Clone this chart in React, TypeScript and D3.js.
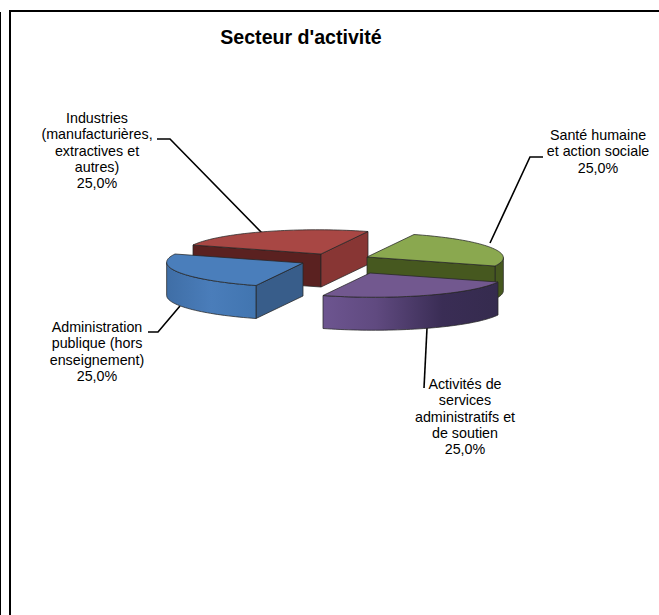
import React from 'react';
import * as d3 from 'd3';

const categories = [
  'Santé humaine et action sociale',
  'Activités de services administratifs et de soutien',
  'Administration publique (hors enseignement)',
  'Industries (manufacturières, extractives et autres)',
];
const shares = [25, 25, 25, 25];
const title = "Secteur d'activité";

const topColors = ['#8aa84f', '#72588f', '#4a7ebb', '#a84744'];
const startFaceColors = ['#46581f', '#2f2545', '#385d8a', '#5a2120'];
const endFaceColors = ['#46581f', '#2f2545', '#385d8a', '#883634'];
const rimColors = ['#46581f', 'url(#rim-purple)', 'url(#rim-blue)', '#883634'];

// how far each slice is pulled from the pie centre, in px
const explode: [number, number][] = [
  [27, -5],
  [30, 11],
  [-37, 1],
  [-19, -8],
];

const labelLines = [
  ['Santé humaine', 'et action sociale', '25,0%'],
  ['Activités de', 'services', 'administratifs et', 'de soutien', '25,0%'],
  ['Administration', 'publique (hors', 'enseignement)', '25,0%'],
  ['Industries', '(manufacturières,', 'extractives et', 'autres)', '25,0%'],
];
const labelAt: [number, number][] = [
  [598, 140],
  [465, 389],
  [97, 332],
  [97, 123],
];
const leaders: [number, number][][] = [
  [[543, 157], [530, 157], [490, 243]],
  [[424, 388], [427, 328]],
  [[148, 332], [158, 332], [180, 306]],
  [[157, 139], [170, 139], [263, 234]],
];

const center: [number, number] = [340, 262];
const axisU: [number, number] = [128, 9]; // radius towards 3 o'clock on screen
const axisV: [number, number] = [-47, 22.5]; // radius towards 6 o'clock on screen
const depth = 33;
const edge = '#262626';

const project = (a: number): [number, number] => [
  Math.sin(a) * axisU[0] - Math.cos(a) * axisV[0],
  Math.sin(a) * axisU[1] - Math.cos(a) * axisV[1],
];

const line = d3.line<[number, number]>();
const down = (p: [number, number]): [number, number] => [p[0], p[1] + depth];
const wall = (pts: [number, number][]): string =>
  (line([...pts, ...pts.map(down).reverse()]) as string) + 'Z';

const slices = d3.pie<number>().sort(null).startAngle(0).endAngle(2 * Math.PI)(shares);

const Slice: React.FC<{ index: number }> = ({ index }) => {
  const s = slices[index];
  const apex: [number, number] = [center[0] + explode[index][0], center[1] + explode[index][1]];
  const rimAt = (a: number): [number, number] => {
    const p = project(a);
    return [apex[0] + p[0], apex[1] + p[1]];
  };
  const sweep = d3.scaleLinear().domain([0, 48]).range([s.startAngle, s.endAngle]);
  const rim = d3.range(49).map((i) => rimAt(sweep(i)));
  // keep the part of the rim that faces the viewer
  const frontRim = rim.filter((p, i) => {
    const prev = rim[i - 1];
    const next = rim[i + 1];
    return (prev && prev[0] > p[0]) || (next && p[0] > next[0]);
  });
  const first = rim[0];
  const last = rim[rim.length - 1];
  const faces: { d: string; fill: string }[] = [];
  if (first[0] < apex[0]) faces.push({ d: wall([apex, first]), fill: startFaceColors[index] });
  if (frontRim.length > 1) faces.push({ d: wall(frontRim), fill: rimColors[index] });
  if (last[0] > apex[0]) faces.push({ d: wall([last, apex]), fill: endFaceColors[index] });

  return (
    <g stroke={edge} strokeWidth={0.75} strokeLinejoin="round">
      {faces.map((f, i) => (
        <path key={i} d={f.d} fill={f.fill} />
      ))}
      <path d={(line([apex, ...rim]) as string) + 'Z'} fill={topColors[index]} />
    </g>
  );
};

const App: React.FC = () => (
  <svg
    width={659}
    height={615}
    style={{ position: 'absolute', left: 0, top: 0, display: 'block', background: '#fff' }}
    fontFamily="'Liberation Sans', Arial, sans-serif"
  >
    <defs>
      <linearGradient id="rim-purple" x1="0" x2="1" y1="0" y2="0">
        <stop offset="0" stopColor="#6d5590" />
        <stop offset="0.3" stopColor="#604a80" />
        <stop offset="0.68" stopColor="#3a2d55" />
        <stop offset="1" stopColor="#352b4e" />
      </linearGradient>
      <linearGradient id="rim-blue" x1="0" x2="1" y1="0" y2="0">
        <stop offset="0" stopColor="#3f6ea6" />
        <stop offset="0.5" stopColor="#4a7dba" />
        <stop offset="1" stopColor="#4175b0" />
      </linearGradient>
    </defs>

    <path d="M10 615V11H659" fill="none" stroke="#000" strokeWidth={2} />
    <path d="M0.5 12V615" fill="none" stroke="#000" strokeWidth={1} />

    <text x={301} y={43.5} textAnchor="middle" fontSize={19.6} fontWeight="bold" fill="#000">
      {title}
    </text>

    {leaders.map((pts, i) => (
      <path key={categories[i]} d={line(pts) as string} fill="none" stroke="#000" strokeWidth={1.6} />
    ))}

    {[3, 0, 2, 1].map((i) => (
      <Slice key={i} index={i} />
    ))}

    {labelLines.map((lines, i) => (
      <text key={i} textAnchor="middle" fontSize={14.3} fill="#000">
        {lines.map((l, j) => (
          <tspan key={j} x={labelAt[i][0]} y={labelAt[i][1] + j * 16.3}>
            {l}
          </tspan>
        ))}
      </text>
    ))}
  </svg>
);

export default App;
